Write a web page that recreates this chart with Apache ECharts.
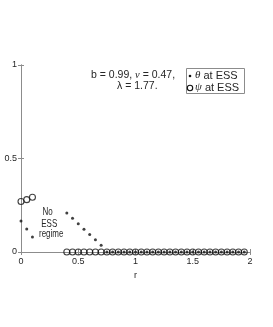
<!DOCTYPE html>
<html><head><meta charset="utf-8">
<script src="https://cdn.jsdelivr.net/npm/echarts@6/dist/echarts.min.js"></script>
<style>html,body{margin:0;padding:0;background:#fff}#c{width:273px;height:327px}</style>
</head><body><div id="c"></div>
<script>
var rVals = [0, 0.05, 0.1, 0.4, 0.45, 0.5, 0.55, 0.6, 0.65, 0.7, 0.75, 0.8, 0.85, 0.9, 0.95, 1.0, 1.05, 1.1, 1.15, 1.2, 1.25, 1.3, 1.35, 1.4, 1.45, 1.5, 1.55, 1.6, 1.65, 1.7, 1.75, 1.8, 1.85, 1.9, 1.95];
var thetaVals = [0.166, 0.123, 0.08, 0.208, 0.18, 0.151, 0.121, 0.093, 0.066, 0.036, 0, 0, 0, 0, 0, 0, 0, 0, 0, 0, 0, 0, 0, 0, 0, 0, 0, 0, 0, 0, 0, 0, 0, 0, 0];
var psiVals = [0.27, 0.28, 0.293, 0, 0, 0, 0, 0, 0, 0, 0, 0, 0, 0, 0, 0, 0, 0, 0, 0, 0, 0, 0, 0, 0, 0, 0, 0, 0, 0, 0, 0, 0, 0, 0];
var xTicks = [0, 0.5, 1, 1.5, 2];
var yTicks = [0, 0.5, 1];

var FONT = 'Liberation Sans, Arial, sans-serif';
var AX = '#8c8c8c', TX = '#262626';
function pairs(xs, ys){ return xs.map(function(x,i){ return [x, ys[i]]; }); }
var chart = echarts.init(document.getElementById('c'));
var axisCommon = {
  axisLine: {show: true, lineStyle: {color: AX, width: 1}},
  axisTick: {show: true, inside: true, length: 3, lineStyle: {color: AX}},
  splitLine: {show: false}
};
function narrowText(txt, x, y){
  return {type: 'text', x: x, y: y, scaleX: 0.76, scaleY: 1,
    style: {text: txt, font: '10.5px ' + FONT, fill: TX, verticalAlign: 'middle', align: 'left'}};
}
chart.setOption({
  animation: false,
  grid: {left: 21, top: 65, width: 229, height: 187, containLabel: false},
  xAxis: [
    Object.assign({type: 'value', min: 0, max: 2, interval: 0.5, position: 'bottom',
      name: 'r', nameLocation: 'middle', nameGap: 17,
      nameTextStyle: {fontFamily: FONT, fontSize: 9, color: TX},
      axisLabel: {fontFamily: FONT, fontSize: 9, color: TX, margin: 5,
        formatter: function(v){ return xTicks.indexOf(v) >= 0 ? String(v) : ''; }}}, axisCommon),
    Object.assign({type: 'value', min: 0, max: 2, interval: 0.5, position: 'top',
      axisLabel: {show: false}}, axisCommon)
  ],
  yAxis: [
    Object.assign({type: 'value', min: 0, max: 1, interval: 0.5, position: 'left',
      axisLabel: {fontFamily: FONT, fontSize: 9, color: TX, margin: 4,
        formatter: function(v){ return yTicks.indexOf(v) >= 0 ? String(v) : ''; }}}, axisCommon),
    Object.assign({type: 'value', min: 0, max: 1, interval: 0.5, position: 'right',
      axisLabel: {show: false}}, axisCommon)
  ],
  series: [
    {name: 'ψ at ESS', type: 'scatter', data: pairs(rVals, psiVals), symbol: 'circle', symbolSize: 6,
      itemStyle: {color: 'rgba(0,0,0,0)', borderColor: '#111', borderWidth: 1.1}, z: 2},
    {name: 'θ at ESS', type: 'scatter', data: pairs(rVals, thetaVals), symbol: 'circle', symbolSize: 3,
      itemStyle: {color: '#111'}, z: 3}
  ],
  graphic: [
    {type: 'text', left: 91, top: 70, style: {text: 'b = 0.99, {i|ν} = 0.47,', font: '10.5px ' + FONT, fill: TX,
      rich: {i: {fontStyle: 'italic', fontFamily: 'Liberation Serif, serif', fontSize: 10.5, fill: TX}}}},
    {type: 'text', left: 117, top: 81, style: {text: 'λ = 1.77.', font: '10.5px ' + FONT, fill: TX}},
    narrowText('No', 42.5, 212.5),
    narrowText('ESS', 41.3, 224),
    narrowText('regime', 39, 234),
    {type: 'rect', shape: {x: 186.5, y: 68.5, width: 58, height: 25}, style: {fill: '#fff', stroke: AX, lineWidth: 1}, z: 10},
    {type: 'circle', shape: {cx: 190, cy: 76, r: 1.3}, style: {fill: '#111'}, z: 11},
    {type: 'circle', shape: {cx: 190, cy: 88, r: 2.7}, style: {fill: 'none', stroke: '#111', lineWidth: 1.1}, z: 11},
    {type: 'text', left: 195, top: 70, z: 11, style: {text: '{i|θ} at ESS', font: '11px ' + FONT, fill: TX,
      rich: {i: {fontStyle: 'italic', fontFamily: 'Liberation Serif, serif', fontSize: 11, fill: TX}}}},
    {type: 'text', left: 195, top: 82, z: 11, style: {text: '{i|ψ} at ESS', font: '11px ' + FONT, fill: TX,
      rich: {i: {fontStyle: 'italic', fontFamily: 'Liberation Serif, serif', fontSize: 11, fill: TX}}}}
  ]
});
</script></body></html>
